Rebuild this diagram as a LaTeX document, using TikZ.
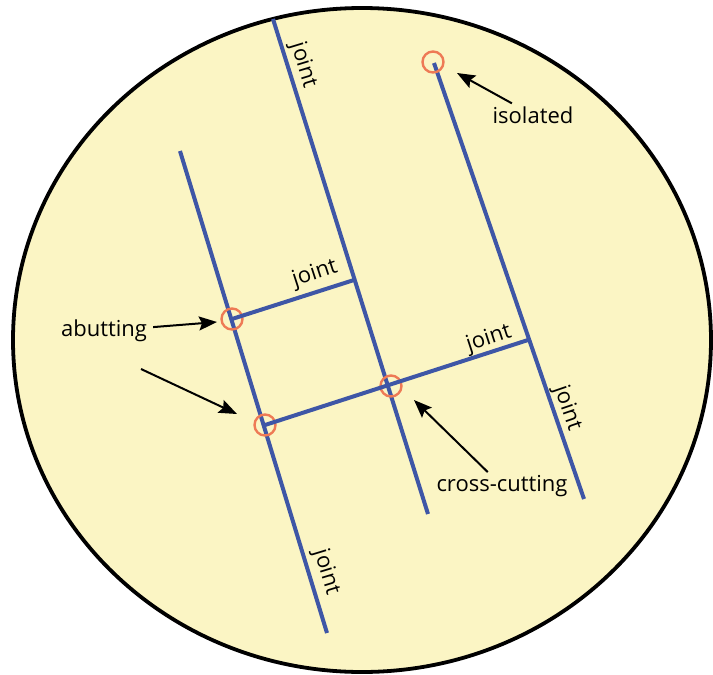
\documentclass[tikz,border=0pt]{standalone}
\usepackage{fontspec}
\setmainfont{Open Sans}
\usetikzlibrary{arrows.meta,positioning,calc}
\definecolor{paper}{HTML}{FBF5C4}
\definecolor{fault}{HTML}{3E56A6}
\definecolor{ringc}{HTML}{EE7A55}

\begin{document}
\begin{tikzpicture}[x=1pt,y=-1pt,font=\fontsize{22}{26}\selectfont,
  jn/.style={draw=fault,line width=4pt},
  ring/.style={circle,draw=ringc,line width=2.4pt,minimum size=21pt,inner sep=0pt},
  arr/.style={-{Stealth[length=18pt,width=14pt,inset=3pt]},line width=2pt},
  lbl/.style={inner sep=3pt}]
\useasboundingbox (0,0) rectangle (713,675);
\draw[fill=paper,line width=3.8pt] (362,340) ellipse [x radius=349,y radius=332];
% long joints
\coordinate (a1) at (180,151); \coordinate (a2) at (327,633);
\coordinate (b1) at (273,19);  \coordinate (b2) at (428,514);
\coordinate (c1) at (434,63);  \coordinate (c2) at (584,499);
\draw[jn] (a1) -- (a2);
\draw[jn] (b1) -- (b2);
\draw[jn] (c1) -- (c2);
% rings
\node[ring] (r1) at (232,319) {};
\node[ring] (r2) at (265,425) {};
\node[ring] (r3) at (391,386) {};
\node[ring] (r4) at (433,62) {};
% short joints
\coordinate (e1) at (354,280); \coordinate (e2) at (528,340);
\draw[jn] (r1.center) -- (e1);
\draw[jn] (r2.center) -- (e2);
% labels
\node[lbl] (iso) at (533,115) {isolated};
\node[lbl,inner sep=6pt] (ab) at (104,331) {abutting};
\node[lbl] (cc) at (502,486) {cross-cutting};
\node[lbl,rotate=-73] (j1) at (303,65) {joint};
\node[lbl,rotate=18] (j2) at (315,274) {joint};
\node[lbl,rotate=18] (j3) at (489,339) {joint};
\node[lbl,rotate=-71] (j4) at (567,408) {joint};
\node[lbl,rotate=-73] (j5) at (326,572) {joint};
% arrows
\coordinate (t1) at (217,322);
\coordinate (s2) at (141,369); \coordinate (t2) at (237,414);
\coordinate (t3) at (457,73);
\coordinate (t4) at (414,400);
\draw[arr] (ab) -- (t1);
\draw[arr] (s2) -- (t2);
\draw[arr] (iso) -- (t3);
\draw[arr] (cc) -- (t4);
\end{tikzpicture}
\end{document}
